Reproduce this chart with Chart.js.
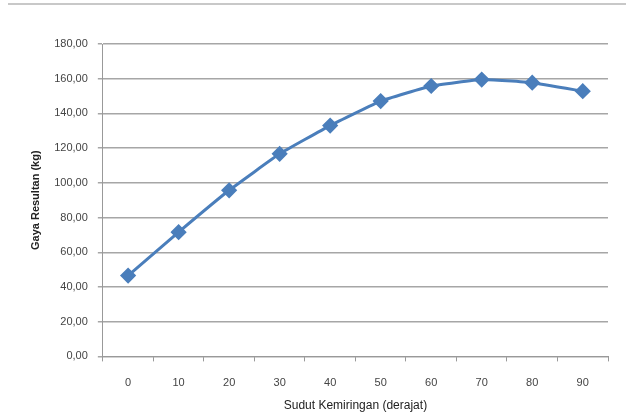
<!DOCTYPE html>
<html>
<head>
<meta charset="utf-8">
<script src="https://cdn.jsdelivr.net/npm/chart.js@4"></script>
<style>
  body { margin: 0; background: #fff; }
  #wrap { position: relative; width: 626px; height: 415px; }
  #topline { position: absolute; left: 8px; right: 0; top: 3px; height: 2px; background: #c8c8c8; }
</style>
</head>
<body>
<div id="wrap">
  <canvas id="chart" width="626" height="415"></canvas>
  <div id="topline"></div>
</div>
<script>
// Sudut kemiringan (derajat) vs gaya resultan (kg)
const angles = ['0', '10', '20', '30', '40', '50', '60', '70', '80', '90'];
const resultantForce = [46.6, 71.6, 95.7, 116.7, 133.0, 147.1, 155.8, 159.5, 157.7, 152.8];
const yTicks = [0, 20, 40, 60, 80, 100, 120, 140, 160, 180];

const ctx = document.getElementById('chart').getContext('2d');
const chart = new Chart(ctx, {
  type: 'line',
  data: {
    labels: angles,
    datasets: [{
      data: resultantForce,
      borderColor: '#4a7ebb',
      backgroundColor: '#4a7ebb',
      borderWidth: 3,
      pointStyle: 'rectRot',
      pointRadius: 6,
      pointHoverRadius: 6,
      tension: 0.1
    }]
  },
  options: {
    responsive: false,
    animation: false,
    layout: { padding: { top: 44, right: 18, bottom: 2, left: 29 } },
    plugins: { legend: { display: false }, tooltip: { enabled: false } },
    scales: {
      x: {
        offset: true,
        grid: { display: true, drawOnChartArea: false, offset: true, tickLength: 5, color: '#999' },
        border: { color: '#999', width: 1 },
        ticks: { color: '#444', font: { family: 'Liberation Sans', size: 11 }, padding: 15 },
        title: {
          display: true,
          text: 'Sudut Kemiringan (derajat)',
          color: '#222',
          font: { family: 'Liberation Sans', size: 12 },
          padding: { top: -6, bottom: 0 }
        }
      },
      y: {
        min: 0,
        max: 180,
        afterBuildTicks: axis => { axis.ticks = yTicks.map(v => ({ value: v })); },
        grid: { color: '#a6a6a6', lineWidth: 1.5, tickLength: 5 },
        border: { color: '#999', width: 1 },
        ticks: {
          color: '#444',
          font: { family: 'Liberation Sans', size: 11 },
          padding: 10,
          callback: v => v.toFixed(2).replace('.', ',')
        },
        title: {
          display: true,
          text: 'Gaya Resultan (kg)',
          color: '#222',
          font: { family: 'Liberation Sans', size: 11, weight: 'bold' },
          padding: { top: 0, bottom: 2 }
        }
      }
    }
  }
});
</script>
</body>
</html>
